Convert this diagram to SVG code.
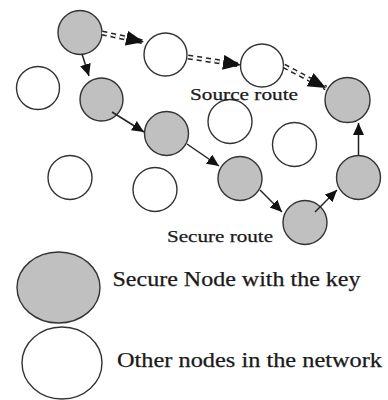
<svg xmlns="http://www.w3.org/2000/svg" width="388" height="400" viewBox="0 0 388 400">
<style>
.sec{fill:#c0c0c0;stroke:#333;stroke-width:1.4}
.oth{fill:#fff;stroke:#333;stroke-width:1.4}
.solid{fill:none;stroke:#222;stroke-width:1.5}
.dOut{fill:none;stroke:#222;stroke-width:5;stroke-dasharray:5 4}
.dIn{fill:none;stroke:#fff;stroke-width:2;stroke-dasharray:5 4}
.lbl{font-family:"Liberation Serif","Times New Roman",serif;fill:#1a1a1a;stroke:#1a1a1a;stroke-width:0.25}
</style>
<defs>
<marker id="ah" markerUnits="userSpaceOnUse" markerWidth="13" markerHeight="12" refX="12" refY="5.5" orient="auto"><path d="M0,0 L12,5.5 L0,11 z" fill="#111"/></marker>
<marker id="ahBig" markerUnits="userSpaceOnUse" markerWidth="19" markerHeight="16" refX="18" refY="7.5" orient="auto"><path d="M0,0 L18,7.5 L0,15 z" fill="#111"/></marker>
</defs>
<rect width="388" height="400" fill="#fff"/>
<g id="nodes">
<g id="nA"><circle class="sec" cx="80" cy="32.5" r="22"/></g>
<g id="nB"><circle class="sec" cx="101.5" cy="99.5" r="21.5"/></g>
<g id="nC"><circle class="sec" cx="166.5" cy="133.5" r="22"/></g>
<g id="nD"><circle class="sec" cx="240" cy="178.5" r="22"/></g>
<g id="nE"><circle class="sec" cx="305" cy="222.5" r="22"/></g>
<g id="nF"><circle class="sec" cx="358.5" cy="177.5" r="22"/></g>
<g id="nG"><circle class="sec" cx="347.5" cy="100" r="22.5"/></g>
<g id="w1"><circle class="oth" cx="165.5" cy="54.5" r="21.5"/></g>
<g id="w2"><circle class="oth" cx="262" cy="65.5" r="21.5"/></g>
<g id="w3"><circle class="oth" cx="38" cy="88" r="21.5"/></g>
<g id="w4"><circle class="oth" cx="230" cy="121.5" r="22"/></g>
<g id="w5"><circle class="oth" cx="294.5" cy="144.5" r="22"/></g>
<g id="w6"><circle class="oth" cx="70" cy="177.5" r="22"/></g>
<g id="w7"><circle class="oth" cx="155" cy="189.5" r="22"/></g>
</g>
<g id="connectors">
<path class="solid" d="M82,54 L89,76" marker-end="url(#ah)"/>
<path class="solid" d="M112,112 L144,132" marker-end="url(#ah)"/>
<path class="solid" d="M187,144 L219,166" marker-end="url(#ah)"/>
<path class="solid" d="M260,190 L282,212" marker-end="url(#ah)"/>
<path class="solid" d="M315,212 L337,190" marker-end="url(#ah)"/>
<path class="solid" d="M358.5,155 L358.5,123" marker-end="url(#ah)"/>
<path class="dOut" d="M102,33 L144,42"/>
<path class="dIn" d="M102,33 L144,42" marker-end="url(#ahBig)"/>
<path class="dOut" d="M188,57 L241,65"/>
<path class="dIn" d="M188,57 L241,65" marker-end="url(#ahBig)"/>
<path class="dOut" d="M284,66 L326,88"/>
<path class="dIn" d="M284,66 L326,88" marker-end="url(#ahBig)"/>
</g>
<g id="labels">
<text class="lbl" x="190" y="100" font-size="17" textLength="108" lengthAdjust="spacingAndGlyphs">Source route</text>
<text class="lbl" x="167" y="242" font-size="17" textLength="106" lengthAdjust="spacingAndGlyphs">Secure route</text>
</g>
<g id="legend">
<g id="legSecure">
<ellipse class="sec" cx="58.5" cy="287.5" rx="41.5" ry="35.5"/>
<text class="lbl" x="112.5" y="286" font-size="20" textLength="248" lengthAdjust="spacingAndGlyphs">Secure Node with the key</text>
</g>
<g id="legOther">
<ellipse class="oth" cx="62" cy="363" rx="40" ry="36"/>
<text class="lbl" x="117" y="367" font-size="20" textLength="265" lengthAdjust="spacingAndGlyphs">Other nodes in the network</text>
</g>
</g>
</svg>
